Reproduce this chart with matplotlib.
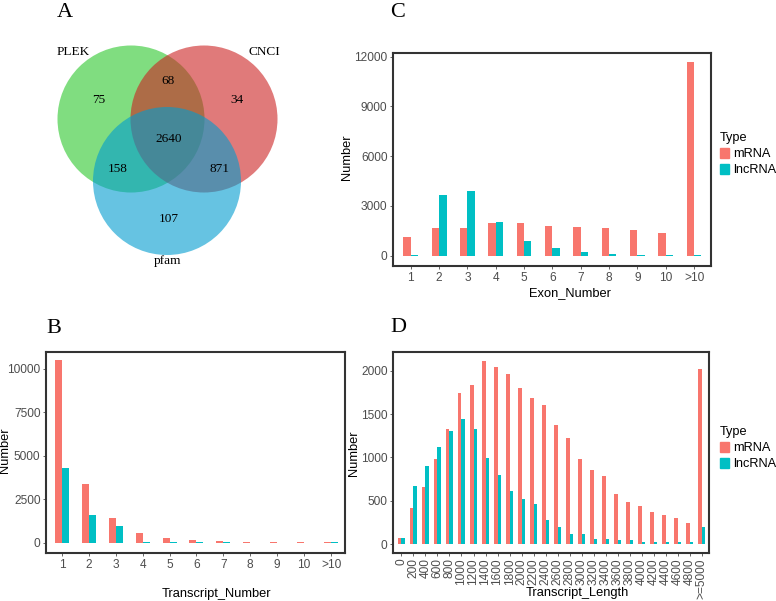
import matplotlib
matplotlib.use("Agg")
import matplotlib.pyplot as plt
from matplotlib.patches import Circle, Patch
import numpy as np

# ---- data ----
venn_sets = ["PLEK", "CNCI", "pfam"]
venn_counts = {"PLEK": 75, "CNCI": 34, "pfam": 107, "PLEK_CNCI": 68,
               "PLEK_pfam": 158, "CNCI_pfam": 871, "all": 2640}

transcript_cats = ["1", "2", "3", "4", "5", "6", "7", "8", "9", "10", ">10"]
transcript_mrna = [10480, 3390, 1400, 540, 270, 130, 80, 40, 30, 30, 20]
transcript_lnc = [4290, 1590, 940, 40, 25, 20, 15, 10, 10, 10, 60]

exon_cats = ["1", "2", "3", "4", "5", "6", "7", "8", "9", "10", ">10"]
exon_mrna = [1120, 1670, 1670, 1980, 1950, 1810, 1730, 1650, 1550, 1380, 11660]
exon_lnc = [20, 3660, 3900, 2010, 890, 440, 240, 100, 40, 40, 40]

length_cats = ["0", "200", "400", "600", "800", "1000", "1200", "1400", "1600",
               "1800", "2000", "2200", "2400", "2600", "2800", "3000", "3200",
               "3400", "3600", "3800", "4000", "4200", "4400", "4600", "4800",
               ">=5000"]
length_mrna = [75, 420, 660, 980, 1330, 1745, 1835, 2110, 2040, 1960, 1805,
               1690, 1610, 1375, 1230, 985, 855, 785, 585, 490, 445, 375, 340,
               300, 245, 2020]
length_lnc = [75, 670, 905, 1125, 1305, 1440, 1325, 995, 800, 615, 520, 465,
              285, 195, 115, 115, 60, 60, 55, 50, 30, 30, 30, 30, 30, 195]

RED = "#F8766D"
TEAL = "#00BFC4"
TICK = "#4D4D4D"
W, H = 776, 601

fig = plt.figure(figsize=(W / 100, H / 100), dpi=100)
plt.rcParams["font.family"] = ["Liberation Sans", "DejaVu Sans"]


def px_axes(left, top, right, bottom):
    return fig.add_axes([left / W, 1 - bottom / H, (right - left) / W, (bottom - top) / H])


def bar_panel(ax, cats, mrna, lnc, ymin, ymax, yticks, width, xlim, rotate=False):
    x = np.arange(len(cats))
    ax.bar(x - width / 2, mrna, width, color=RED)
    ax.bar(x + width / 2, lnc, width, color=TEAL)
    ax.set_xlim(*xlim)
    ax.set_ylim(ymin, ymax)
    ax.set_yticks(yticks)
    ax.set_xticks(x)
    ax.set_xticklabels(cats, rotation=90 if rotate else 0)
    ax.tick_params(colors=TICK, labelsize=8.6, length=2, width=0.6, pad=2)
    for s in ax.spines.values():
        s.set_color("#333333")
        s.set_linewidth(1.5)


# ---- A: Venn ----
axA = fig.add_axes([0, 1 - 290 / H, 390 / W, 290 / H])
axA.set_xlim(0, 390)
axA.set_ylim(290, 0)
axA.axis("off")
axA.add_patch(Circle((131, 119), 73.5, color=(0.17, 0.78, 0.17), alpha=0.6, lw=0))
axA.add_patch(Circle((204, 119), 73.5, color=(0.80, 0.13, 0.13), alpha=0.6, lw=0))
axA.add_patch(Circle((167, 181), 74, color=(0.0, 0.61, 0.81), alpha=0.6, lw=0))
serif = ["Liberation Serif", "DejaVu Serif"]
vt = dict(ha="center", va="center", fontsize=9.5, family=serif)
axA.text(73, 52, venn_sets[0], **vt)
axA.text(264, 52, venn_sets[1], **vt)
axA.text(168, 261, venn_sets[2], **vt)
axA.text(99, 100, str(venn_counts["PLEK"]), **vt)
axA.text(168, 81, str(venn_counts["PLEK_CNCI"]), **vt)
axA.text(237, 100, str(venn_counts["CNCI"]), **vt)
axA.text(169, 139, str(venn_counts["all"]), **vt)
axA.text(118, 169, str(venn_counts["PLEK_pfam"]), **vt)
axA.text(219, 169, str(venn_counts["CNCI_pfam"]), **vt)
axA.text(169, 219, str(venn_counts["pfam"]), **vt)

# ---- B ----
axB = px_axes(46, 352, 345, 553)
bar_panel(axB, transcript_cats, transcript_mrna, transcript_lnc, -590, 10950,
          [0, 2500, 5000, 7500, 10000], 0.26, (-0.59, 10.52))
fig.text(5 / W, 1 - 450 / H, "Number", rotation=90, ha="center", va="center", fontsize=9.3)
fig.text(216 / W, 1 - 594 / H, "Transcript_Number", ha="center", va="center", fontsize=9.3)

# ---- C ----
axC = px_axes(393, 53, 711, 266)
bar_panel(axC, exon_cats, exon_mrna, exon_lnc, -620, 12220,
          [0, 3000, 6000, 9000, 12000], 0.26, (-0.63, 10.6))
fig.text(347 / W, 1 - 157 / H, "Number", rotation=90, ha="center", va="center", fontsize=9.3)
fig.text(570 / W, 1 - 293 / H, "Exon_Number", ha="center", va="center", fontsize=9.3)

# ---- D ----
axD = px_axes(393, 352, 709, 553)
bar_panel(axD, length_cats, length_mrna, length_lnc, -100, 2215,
          [0, 500, 1000, 1500, 2000], 0.3, (-0.7, 25.6), rotate=True)
fig.text(354 / W, 1 - 453 / H, "Number", rotation=90, ha="center", va="center", fontsize=9.3)
fig.text(577 / W, 1 - 593 / H, "Transcript_Length", ha="center", va="center", fontsize=9.3)

# legends
handles = [Patch(color=RED, label="mRNA"), Patch(color=TEAL, label="lncRNA")]
for ytop in (132, 426):
    leg = fig.legend(handles=handles, title="Type", loc="upper left",
                     bbox_to_anchor=(720 / W, 1 - ytop / H), frameon=False,
                     fontsize=9.2, title_fontsize=9.2, handlelength=0.7,
                     handleheight=0.8, handletextpad=0.3, labelspacing=0.3,
                     borderpad=0, borderaxespad=0, alignment="left")

# panel letters
for letter, x, y in [("A", 57, 17), ("B", 46, 333), ("C", 390, 17), ("D", 390, 332)]:
    fig.text(x / W, 1 - y / H, letter, fontsize=16, family=serif, ha="left", va="baseline")

fig.savefig("out.png", dpi=100)
